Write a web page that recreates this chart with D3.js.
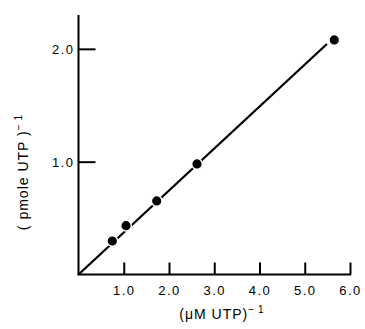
<!DOCTYPE html>
<html><head><meta charset="utf-8">
<script src="https://cdn.jsdelivr.net/npm/d3@7"></script>
<style>
body{margin:0;background:#fff;}
text{font-family:"Liberation Sans",Arial,sans-serif;fill:#000;}
</style></head><body>
<svg id="c" width="365" height="329"></svg>
<script>
const xValues = [0.747, 1.05, 1.728, 2.619, 5.653];
const yValues = [0.297, 0.433, 0.652, 0.98, 2.079];
const fitLine = [[0, 0], [5.49, 2.043]];
const xTicks = [1, 2, 3, 4, 5, 6];
const xTickLabels = ["1.0", "2.0", "3.0", "4.0", "5.0", "6.0"];
const yTicks = [1, 2];
const yTickLabels = ["1.0", "2.0"];
const xTitle = "(\u03BCM UTP)";
const yTitle = "( pmole UTP )";

const svg = d3.select("#c");
const x = d3.scaleLinear().domain([0, 6]).range([78.5, 350]);
const y = d3.scaleLinear().domain([0, 2.3]).range([274.5, 15]);

svg.append("line").attr("x1", x(0)).attr("x2", x(0)).attr("y1", y(0)).attr("y2", y(2.3))
  .attr("stroke", "#000").attr("stroke-width", 2);
svg.append("line").attr("x1", x(0) - 1).attr("x2", x(6) + 1).attr("y1", y(0)).attr("y2", y(0))
  .attr("stroke", "#000").attr("stroke-width", 2);

const xa = svg.append("g").attr("transform", `translate(0,${y(0)})`)
  .call(d3.axisBottom(x).tickValues(xTicks).tickSize(-12).tickPadding(0)
    .tickFormat((d, i) => xTickLabels[i]));
xa.select(".domain").remove();
xa.selectAll(".tick line").attr("stroke", "#000").attr("stroke-width", 2);
xa.selectAll(".tick text").attr("y", 20).attr("dy", 0)
  .style("font-size", "13px").style("letter-spacing", "1.5px").attr("fill", "#000");

const ya = svg.append("g").attr("transform", `translate(${x(0)},0)`)
  .call(d3.axisLeft(y).tickValues(yTicks).tickSize(-17).tickPadding(0)
    .tickFormat((d, i) => yTickLabels[i]));
ya.select(".domain").remove();
ya.selectAll(".tick line").attr("stroke", "#000").attr("stroke-width", 2);
ya.selectAll(".tick text").attr("x", -4).attr("dy", "0.36em")
  .style("font-size", "13px").style("letter-spacing", "1.5px").attr("fill", "#000");

svg.append("path").datum(fitLine)
  .attr("d", d3.line().x(d => x(d[0])).y(d => y(d[1])))
  .attr("stroke", "#000").attr("stroke-width", 2.3).attr("fill", "none");

svg.selectAll("circle.pt").data(xValues.map((v, i) => [v, yValues[i]]))
  .enter().append("circle").attr("class", "pt")
  .attr("cx", d => x(d[0])).attr("cy", d => y(d[1])).attr("r", 5.3)
  .attr("fill", "#000").attr("stroke", "#fff").attr("stroke-width", 1.4);

const xt = svg.append("text").attr("x", 222).attr("y", 319).attr("text-anchor", "middle")
  .style("font-size", "14px").style("letter-spacing", "1px");
xt.append("tspan").text(xTitle);
xt.append("tspan").attr("dy", -6).style("font-size", "10px").text("\u2212\u2009\u0031");

const yt = svg.append("text").attr("transform", "translate(28,172) rotate(-90)")
  .attr("text-anchor", "middle").style("font-size", "14px").style("letter-spacing", "1px");
yt.append("tspan").text(yTitle);
yt.append("tspan").attr("dy", -6).style("font-size", "10px").text("\u2212\u2009\u0031");
</script>
</body></html>
